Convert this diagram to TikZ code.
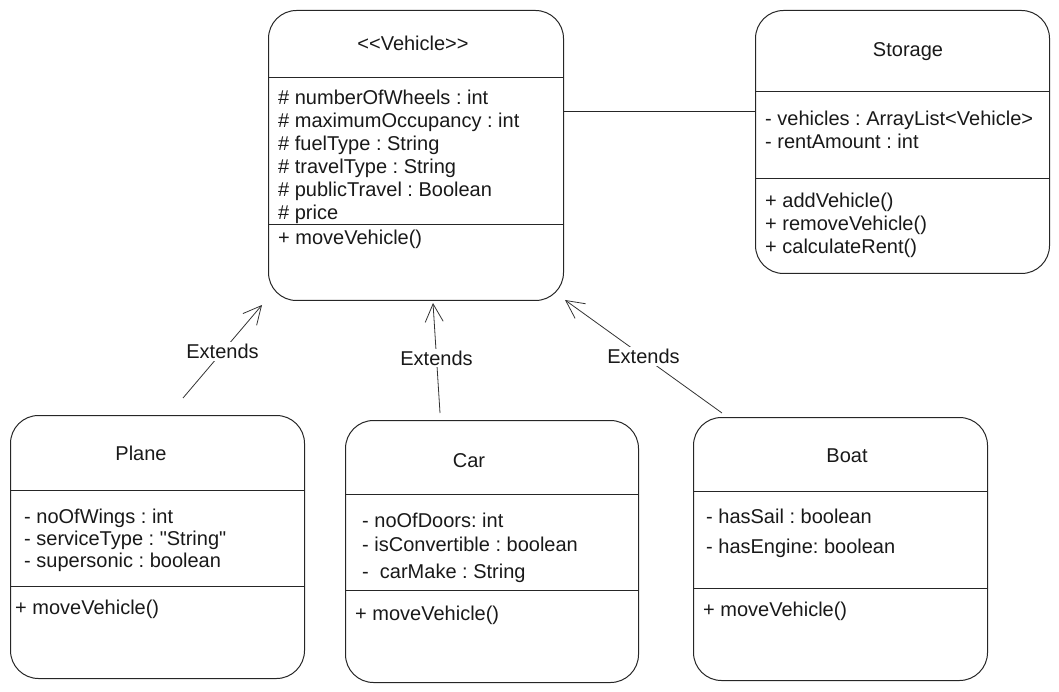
\documentclass[tikz,border=0pt]{standalone}
\usepackage{fontspec}
\setmainfont{Liberation Sans}[Ligatures=TeXOff]
\usetikzlibrary{arrows.meta}
\frenchspacing
\begin{document}
\begin{tikzpicture}[x=1pt,y=-1pt,
  cls/.style={draw=black!85, line width=1pt, rounded corners=28pt, anchor=north west, inner sep=0pt},
  sep/.style={draw=black!85, line width=1pt},
  txt/.style={anchor=base west, inner sep=0pt, font=\fontsize{20}{23}\selectfont, text=black!90},
  ttl/.style={anchor=base, inner sep=0pt, font=\fontsize{20}{23}\selectfont, text=black!90},
  ext/.style={draw=black!80, line width=0.8pt, -{Straight Barb[length=18pt,width=18pt,line width=0.8pt]}},
  lbl/.style={fill=white, inner sep=2pt, font=\fontsize{20}{23}\selectfont, text=black!90}]
\useasboundingbox (0,0) rectangle (1059,692);
% Vehicle
\node[cls, minimum width=295pt, minimum height=290pt] (vehicle) at (268,10) {};
\draw[sep] (vehicle.west |- 0,78) -- (vehicle.east |- 0,78);
\draw[sep] (vehicle.west |- 0,225) -- (vehicle.east |- 0,225);
\node[ttl] (vt) at (413,51) {<<Vehicle>>};
\node[txt] (va1) at (278,105) {\# numberOfWheels : int};
\node[txt] (va2) at (278,128) {\# maximumOccupancy : int};
\node[txt] (va3) at (278,151) {\# fuelType : String};
\node[txt] (va4) at (278,174) {\# travelType : String};
\node[txt] (va5) at (278,197) {\# publicTravel : Boolean};
\node[txt] (va6) at (278,220) {\# price};
\node[txt] (vm1) at (278,245) {+ moveVehicle()};
% Storage
\node[cls, minimum width=294pt, minimum height=263pt] (storage) at (755,10) {};
\draw[sep] (storage.west |- 0,92) -- (storage.east |- 0,92);
\draw[sep] (storage.west |- 0,179) -- (storage.east |- 0,179);
\node[ttl] (st) at (908,57) {Storage};
\node[txt] (sa1) at (765,126) {- vehicles : ArrayList<Vehicle>};
\node[txt] (sa2) at (765,149) {- rentAmount : int};
\node[txt] (sm1) at (765,208) {+ addVehicle()};
\node[txt] (sm2) at (765,231) {+ removeVehicle()};
\node[txt] (sm3) at (765,254) {+ calculateRent()};
\draw[sep] (vehicle.east |- 0,112) -- (storage.west |- 0,112);
% Plane
\node[cls, minimum width=294pt, minimum height=263pt] (plane) at (10,415) {};
\draw[sep] (plane.west |- 0,490) -- (plane.east |- 0,490);
\draw[sep] (plane.west |- 0,586) -- (plane.east |- 0,586);
\node[ttl] (pt) at (141,460) {Plane};
\node[txt] (pa1) at (24,523) {- noOfWings : int};
\node[txt] (pa2) at (24,545) {- serviceType : "String"};
\node[txt] (pa3) at (24,567) {- supersonic : boolean};
\node[txt] (pm1) at (15,614) {+ moveVehicle()};
% Car
\node[cls, minimum width=293pt, minimum height=262pt] (car) at (345,420) {};
\draw[sep] (car.west |- 0,494) -- (car.east |- 0,494);
\draw[sep] (car.west |- 0,590) -- (car.east |- 0,590);
\node[ttl] (ct) at (469,467) {Car};
\node[txt] (ca1) at (362,527) {- noOfDoors: int};
\node[txt] (ca2) at (362,551) {- isConvertible : boolean};
\node[txt] (ca3) at (362,578) {-\ \ carMake : String};
\node[txt] (cm1) at (355,620) {+ moveVehicle()};
% Boat
\node[cls, minimum width=294pt, minimum height=263pt] (boat) at (693,417) {};
\draw[sep] (boat.west |- 0,491) -- (boat.east |- 0,491);
\draw[sep] (boat.west |- 0,588) -- (boat.east |- 0,588);
\node[ttl] (bt) at (847,462) {Boat};
\node[txt] (ba1) at (706,523) {- hasSail : boolean};
\node[txt] (ba2) at (706,553) {- hasEngine: boolean};
\node[txt] (bm1) at (703,616) {+ moveVehicle()};
% Extends connectors
\coordinate (pfrom) at (183,398);
\coordinate (pto) at (262,305);
\coordinate (cfrom) at (440,413);
\coordinate (cto) at (433,303);
\coordinate (bfrom) at (722,413);
\coordinate (bto) at (565,300);
\draw[ext] (pfrom) -- node[lbl] (pl) {Extends} (pto);
\draw[ext] (cfrom) -- node[lbl] (cl) {Extends} (cto);
\draw[ext] (bfrom) -- node[lbl] (bl) {Extends} (bto);
\end{tikzpicture}
\end{document}
